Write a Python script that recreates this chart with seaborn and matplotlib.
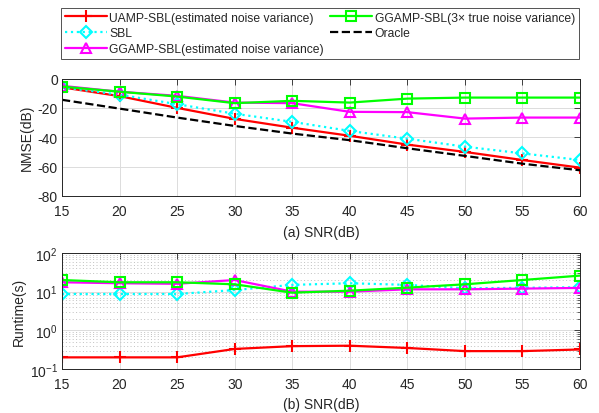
import numpy as np
import pandas as pd
import matplotlib
matplotlib.use("Agg")
import matplotlib.pyplot as plt
import seaborn as sns
from matplotlib.ticker import LogLocator, NullFormatter

sns.set_theme(style="white")
plt.rcParams['font.family'] = ['Liberation Sans', 'DejaVu Sans']
plt.rcParams['mathtext.fontset'] = 'custom'
plt.rcParams['mathtext.rm'] = 'Liberation Sans'
plt.rcParams['mathtext.it'] = 'Liberation Sans:italic'

snr = [15, 20, 25, 30, 35, 40, 45, 50, 55, 60]

labels = ["UAMP-SBL(estimated noise variance)", "SBL",
          "GGAMP-SBL(estimated noise variance)",
          "GGAMP-SBL(3\u00d7 true noise variance)", "Oracle"]

# NMSE (dB)
nmse_uamp = [-6, -12, -20, -27.5, -33.5, -39, -45, -50, -55.5, -60.7]
nmse_sbl = [-6, -11, -17.5, -24, -29.5, -35.7, -41, -46.4, -51, -55.5]
nmse_ggamp_est = [-5, -9, -11.8, -16.4, -16.8, -22.7, -22.9, -27.3, -26.6, -26.6]
nmse_ggamp_3x = [-5.5, -9, -12.3, -16.8, -15.2, -16.4, -13.7, -13, -13, -13]
nmse_oracle = [-14.5, -20.5, -26.6, -32.3, -37.5, -42, -47.5, -52.7, -58, -62.5]

# Runtime (s)
rt_uamp = [0.2, 0.2, 0.2, 0.33, 0.39, 0.4, 0.35, 0.29, 0.29, 0.32]
rt_sbl = [8.7, 8.7, 8.7, 11, 15, 16.5, 15, 12.2, 12.6, 13]
rt_ggamp_est = [17.5, 16.5, 16, 20, 10, 10, 11.5, 11.5, 12, 12.5]
rt_ggamp_3x = [20, 17.5, 17.5, 15.5, 9.4, 10.6, 12.7, 15.5, 20, 26]

styles = [
    dict(color=(1, 0, 0), ls='-', marker='+', ms=9, mew=1.5, mfc='none'),
    dict(color=(0, 1, 1), ls=':', marker='D', ms=6, mew=1.5, mfc='none'),
    dict(color=(1, 0, 1), ls='-', marker='^', ms=7.5, mew=1.5, mfc='none'),
    dict(color=(0, 1, 0), ls='-', marker='s', ms=7, mew=1.5, mfc='none'),
    dict(color=(0, 0, 0), ls='--', marker=None, ms=0, mew=0, mfc='none'),
]

W, H = 599, 414
fig = plt.figure(figsize=(W / 100, H / 100), dpi=100)

def px_axes(x0, y0, x1, y1):
    return fig.add_axes([x0 / W, 1 - y1 / H, (x1 - x0) / W, (y1 - y0) / H])

ax1 = px_axes(62, 79.5, 580, 197)
ax2 = px_axes(62, 254, 580, 370)

top_series = [nmse_uamp, nmse_sbl, nmse_ggamp_est, nmse_ggamp_3x, nmse_oracle]
bot_series = [rt_uamp, rt_sbl, rt_ggamp_est, rt_ggamp_3x]

for ax, series in ((ax1, top_series), (ax2, bot_series)):
    for vals, lab, st in zip(series, labels, styles):
        df = pd.DataFrame({"SNR": snr, "v": vals})
        sns.lineplot(data=df, x="SNR", y="v", ax=ax, color=st['color'],
                     linestyle=st['ls'], marker=st['marker'], markersize=st['ms'],
                     markeredgewidth=st['mew'], markerfacecolor=st['mfc'],
                     markeredgecolor=st['color'], linewidth=1.6, label=lab,
                     legend=False)

for ax in (ax1, ax2):
    ax.set_xlim(15, 60)
    ax.set_xticks(snr)
    ax.tick_params(direction='in', top=True, right=True, labelsize=10,
                   length=4, width=0.6, colors='#262626', pad=6)
    ax.tick_params(axis='y', pad=3)
    ax.tick_params(which='minor', direction='in', top=False, right=True,
                   length=2, width=0.5)
    for s in ax.spines.values():
        s.set_color('#262626')
        s.set_linewidth(0.7)
    ax.grid(True, which='major', color='#dcdcdc', linewidth=0.7)
    ax.set_axisbelow(True)

ax1.set_ylim(-80, 0)
ax1.set_yticks([-80, -60, -40, -20, 0])
ax1.set_yticklabels(['-80', '-60', '-40', '-20', '0'])
ax1.set_xlabel("(a) SNR(dB)", fontsize=10, labelpad=5)
ax1.set_ylabel("NMSE(dB)", fontsize=10, labelpad=3)

ax2.set_yscale('log')
ax2.set_ylim(0.1, 100)
ax2.yaxis.set_major_locator(LogLocator(base=10, numticks=10))
ax2.yaxis.set_minor_locator(LogLocator(base=10, subs=np.arange(2, 10), numticks=10))
ax2.yaxis.set_minor_formatter(NullFormatter())
ax2.grid(True, which='minor', axis='y', color='#c0c0c0', linewidth=0.7,
         linestyle=(0, (1, 2.5)))
ax2.set_xlabel("(b) SNR(dB)", fontsize=10, labelpad=4)
ax2.set_ylabel("Runtime(s)", fontsize=10, labelpad=3)

h, l = ax1.get_legend_handles_labels()
leg = fig.legend(h, l, loc='upper left', bbox_to_anchor=(61 / W, 1 - 9 / H),
                 ncol=2, fontsize=8.7, frameon=True, fancybox=False,
                 handlelength=3.5, handletextpad=0.2, columnspacing=0.5,
                 labelspacing=0.3, borderpad=0.3, borderaxespad=0)
leg.get_frame().set_edgecolor('#262626')
leg.get_frame().set_linewidth(0.7)

fig.savefig("out.png", dpi=100)
